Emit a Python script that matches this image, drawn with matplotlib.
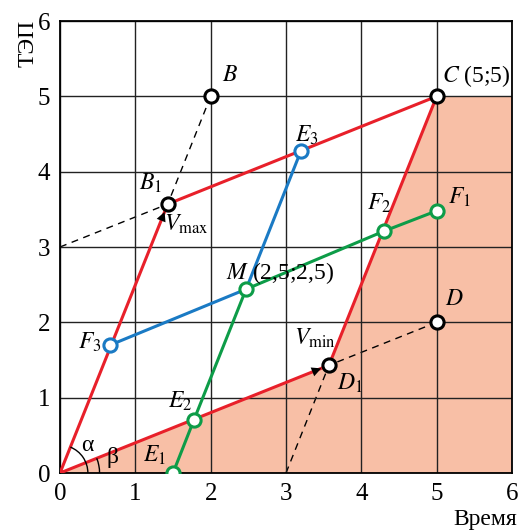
import numpy as np
import matplotlib.pyplot as plt
from matplotlib.patches import Polygon, Arc

plt.rcParams['font.family'] = ['Liberation Serif', 'DejaVu Serif']
plt.rcParams['mathtext.fontset'] = 'stix'

# опорные точки
O = (0.0, 0.0)
B = (2.0, 5.0)
B1 = (1.43, 3.57)
C = (5.0, 5.0)
D = (5.0, 2.0)
D1 = (3.57, 1.43)
M = (2.47, 2.44)

# синяя ломаная F3 - M - E3
blue_x = [0.67, M[0], 3.2]
blue_y = [1.7, M[1], 4.28]

# зелёная ломаная E1 - E2 - M - F2 - F1
green_x = [1.5, 1.78, M[0], 4.3, 5.0]
green_y = [0.0, 0.71, M[1], 3.21, 3.48]

ticks = [0, 1, 2, 3, 4, 5, 6]

RED = '#e8202a'
BLUE = '#1a7ac4'
GREEN = '#0d9c48'
FILL = '#f8bfa6'

fig = plt.figure(figsize=(5.23, 5.31), dpi=100)
ax = fig.add_axes([60 / 523, 58 / 531, 452 / 523, 452 / 531])
ax.set_xlim(0, 6)
ax.set_ylim(0, 6)

# допустимая область
ax.add_patch(Polygon([O, D1, C, (6, 5), (6, 0)], closed=True,
                     facecolor=FILL, edgecolor='none', zorder=0))

ax.set_xticks(ticks)
ax.set_yticks(ticks)
ax.grid(True, color='#222222', linewidth=1.0, zorder=1)
ax.set_axisbelow(False)
ax.tick_params(length=0, labelsize=18, pad=7)
for s in ax.spines.values():
    s.set_linewidth(1.3)
    s.set_zorder(3)

# пунктирные вспомогательные линии
ax.plot([0, B1[0], B[0]], [3, B1[1], B[1]], ls=(0, (5, 4)), color='k', lw=1.0, zorder=2)
ax.plot([3, D1[0], D[0]], [0, D1[1], D[1]], ls=(0, (5, 4)), color='k', lw=1.0, zorder=2)

# красный параллелограмм
px = [O[0], B1[0], C[0], D1[0], O[0]]
py = [O[1], B1[1], C[1], D1[1], O[1]]
ax.plot(px, py, color=RED, lw=2.2, zorder=4)

ax.plot(blue_x, blue_y, color=BLUE, lw=2.2, zorder=4)
ax.plot(green_x, green_y, color=GREEN, lw=2.2, zorder=4)

# стрелки вдоль векторов скорости
for p in (B1, D1):
    t = 0.8
    ax.annotate('', xy=p, xytext=(p[0] * t, p[1] * t),
                arrowprops=dict(arrowstyle='-|>', color='k', lw=0.0,
                                mutation_scale=17, shrinkA=0, shrinkB=6),
                zorder=5)

mk = dict(marker='o', ms=9.5, mfc='white', mew=2.2, ls='none', zorder=6)
ax.plot([B[0], B1[0], C[0], D[0], D1[0]], [B[1], B1[1], C[1], D[1], D1[1]], mec='k', **mk)
ax.plot([blue_x[0], blue_x[2]], [blue_y[0], blue_y[2]], mec=BLUE, **mk)
ax.plot(green_x, green_y, mec=GREEN, **mk)

# углы альфа и бета
aB = np.degrees(np.arctan2(B1[1], B1[0]))
aD = np.degrees(np.arctan2(D1[1], D1[0]))
ax.add_patch(Arc(O, 0.74, 0.74, theta1=0, theta2=aB, color='k', lw=1.0, zorder=5))
ax.add_patch(Arc(O, 1.05, 1.05, theta1=0, theta2=aD, color='k', lw=1.0, zorder=5))
ax.text(0.36, 0.37, 'α', fontsize=17, ha='center', va='center', zorder=7)
ax.text(0.7, 0.2, 'β', fontsize=17, ha='center', va='center', zorder=7)

fs = 17
lab = dict(fontsize=fs, ha='center', va='center', zorder=7)
ax.text(2.26, 5.27, '$B$', **lab)
ax.text(1.2, 3.84, '$B_1$', **lab)
ax.text(1.67, 3.3, '$V_{\\rm max}$', **lab)
ax.text(5.07, 5.27, '$C$ (5;5)', fontsize=fs, ha='left', va='center', zorder=7)
ax.text(3.28, 4.48, '$E_3$', **lab)
ax.text(4.24, 3.58, '$F_2$', **lab)
ax.text(5.3, 3.66, '$F_1$', **lab)
ax.text(2.2, 2.66, '$M$ (2,5;2,5)', fontsize=fs, ha='left', va='center', zorder=7)
ax.text(0.4, 1.74, '$F_3$', **lab)
ax.text(1.6, 0.95, '$E_2$', **lab)
ax.text(1.25, 0.24, '$E_1$', **lab)
ax.text(3.38, 1.79, '$V_{\\rm min}$', **lab)
ax.text(3.85, 1.19, '$D_1$', **lab)
ax.text(5.23, 2.3, '$D$', **lab)

fig.text(485 / 523, 1 - 519 / 531, 'Время', fontsize=17, ha='center', va='center')
fig.text(28 / 523, 1 - 43 / 531, 'ТЭП', fontsize=17, ha='center', va='center', rotation=90)

fig.savefig('out.png', dpi=100)
